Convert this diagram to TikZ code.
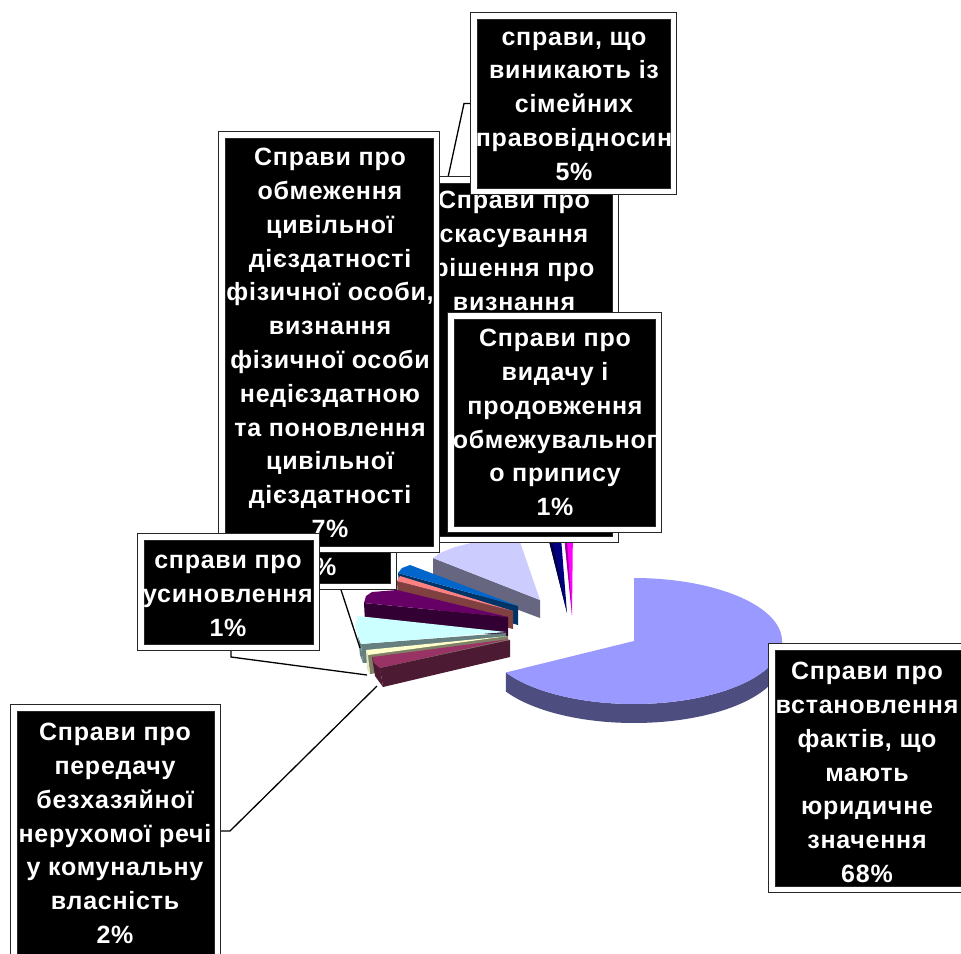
\documentclass[tikz,border=0pt]{standalone}
\usepackage{fontspec}
\newfontfamily\lblfont{Liberation Sans}[LetterSpace=3]
\pgfdeclarelayer{bg}
\pgfsetlayers{bg,main}
\definecolor{cAT}{HTML}{9999FF}\definecolor{cAS}{HTML}{4D4D80}
\definecolor{cBT}{HTML}{993366}\definecolor{cBS}{HTML}{4D1A33}
\definecolor{cCT}{HTML}{FFFFCC}\definecolor{cCS}{HTML}{808066}
\definecolor{cDT}{HTML}{CCFFFF}\definecolor{cDS}{HTML}{668080}
\definecolor{cET}{HTML}{660066}\definecolor{cES}{HTML}{330033}
\definecolor{cFT}{HTML}{FF8080}\definecolor{cFS}{HTML}{804040}
\definecolor{cGT}{HTML}{0066CC}\definecolor{cGS}{HTML}{003366}
\definecolor{cHT}{HTML}{CCCCFF}\definecolor{cHS}{HTML}{666680}
\definecolor{cIT}{HTML}{000080}\definecolor{cIS}{HTML}{000040}
\definecolor{cJT}{HTML}{FF00FF}\definecolor{cJS}{HTML}{990099}
\tikzset{
  lblbox/.style={rectangle, fill=black, draw=black!85, line width=1pt,
    double=white, double distance=5.5pt, inner sep=0pt},
  lbltext/.style={text=white, align=center, inner sep=0pt,
    font=\lblfont\bfseries\fontsize{25}{33.8}\selectfont},
  leader/.style={draw=black, line width=1.3pt},
}
\begin{document}
\begin{tikzpicture}[x=1pt,y=-1pt]
\useasboundingbox (0,0) rectangle (961,953);
\clip (0,0) rectangle (961,953);

% ---- label boxes (back to front) ----
\node[lblbox, minimum width=149.5pt, minimum height=182.5pt] (b5) at (318.5,495) {};
\node[lbltext] (t5) at (318,567) {1\%};

\node[lblbox, minimum width=202.5pt, minimum height=359.5pt] (b2) at (514,359.5) {};
\node[lbltext] (t2) at (514,251) {Справи про\\скасування\\рішення про\\визнання};

\node[lblbox, minimum width=214.5pt, minimum height=414.5pt] (b3) at (329,342) {};
\node[lbltext] (t3) at (330,343) {Справи про\\обмеження\\цивільної\\дієздатності\\фізичної особи,\\визнання\\фізичної особи\\недієздатною\\та поновлення\\цивільної\\дієздатності\\7\%};

\node[lblbox, minimum width=175.5pt, minimum height=110.5pt] (b6) at (228.5,592) {};
\node[lbltext] (t6) at (228,596) {справи про\\усиновлення\\1\%};

\node[lblbox, minimum width=199.5pt, minimum height=175.5pt] (b1) at (573.5,103.5) {};
\node[lbltext] (t1) at (574,106) {справи, що\\виникають із\\сімейних\\правовідносин\\5\%};

\node[lblbox, minimum width=207.5pt, minimum height=213.5pt] (b4) at (554.5,422.5) {};
\node[lbltext] (t4) at (555,422.5) {Справи про\\видачу і\\продовження\\обмежувальног\\о припису\\1\%};

\node[lblbox, minimum width=203.5pt, minimum height=263.5pt] (b7) at (115.5,839.5) {};
\node[lbltext] (t7) at (115,833.5) {Справи про\\передачу\\безхазяйної\\нерухомої речі\\у комунальну\\власність\\2\%};

\node[lblbox, minimum width=209.5pt, minimum height=242.5pt] (b8) at (876.5,768) {};
\node[lbltext] (t8) at (867,772.5) {Справи про\\встановлення\\фактів, що\\мають\\юридичне\\значення\\68\%};

% ---- background, pie and leaders underneath ----
\begin{pgfonlayer}{bg}
\fill[white] (0,0) rectangle (961,953);
% lavender
\fill[cHS] (433,558) -- (540,600) -- (540,618) -- (433,578) -- cycle;
\fill[cHT] (540,600) -- (433,558) -- (440,553) -- (455,547) -- (475,542) -- (497,538) -- (518,536) -- cycle;
% navy
\fill[cIT] (545,525) -- (560,525) -- (567,613) -- cycle;
\fill[cIS] (545,525) -- (549,525) -- (567,613) -- cycle;
% magenta
\fill[cJT] (563,525) -- (573,525) -- (572,615) -- cycle;
\fill[cJS] (563,525) -- (566,525) -- (572,615) -- cycle;
% blue
\fill[cGS] (398,573) -- (518,606) -- (518,625) -- (400,592) -- cycle;
\fill[cGT] (518,606) -- (410,565) -- (402,568) -- (398,573) -- cycle;
% salmon
\fill[cFS] (397,581) -- (513,611) -- (513,629) -- (398,600) -- cycle;
\fill[cFT] (513,611) -- (400,576) -- (397,581) -- cycle;
% purple
\fill[cES] (364,603) -- (508,617) -- (508,636) -- (365,622) -- cycle;
\fill[cET] (508,617) -- (397,590) -- (372,592) -- (366,596) -- (364,603) -- cycle;
% cyan
\fill[cDS] (358,636) -- (361,644) -- (363,663) -- (360,655) -- cycle;
\fill[cDS] (361,644) -- (506,633) -- (506,652) -- (363,663) -- cycle;
\fill[cDT] (506,632) -- (358,616) -- (355,625) -- (358,636) -- (361,644) -- cycle;
% light yellow
\fill[cCS] (368,655) -- (508,636) -- (508,655) -- (370,674) -- cycle;
\fill[cCT!80!gray] (366,650) -- (368,655) -- (370,674) -- (367,669) -- cycle;
\fill[cCT] (508,636) -- (366,650) -- (368,655) -- cycle;
% maroon
\fill[cBS] (372,657) -- (380,668) -- (383,687) -- (375,676) -- cycle;
\fill[cBS] (380,668) -- (510,640) -- (510,657) -- (383,687) -- cycle;
\fill[cBT] (510,639) -- (372,657) -- (374,663) -- (380,668) -- cycle;
% 68% slice
\fill[cAS] plot[domain=0:-150,samples=60] ({634+148*cos(\x)},{641-63*sin(\x)})
   -- plot[domain=-150:0,samples=60] ({634+148*cos(\x)},{660-63*sin(\x)}) -- cycle;
\fill[cAT] (634,641) -- plot[domain=90:-150,samples=100] ({634+148*cos(\x)},{641-63*sin(\x)}) -- cycle;

% leaders
\coordinate (l1a) at (464,103.5);
\coordinate (l1b) at (447,182);
\draw[leader] (b1.west) -- (l1a) -- (l1b);
\coordinate (l6a) at (231,657);
\coordinate (l6b) at (367,675);
\draw[leader] (b6.south -| l6a) -- (l6a) -- (l6b);
\coordinate (l7a) at (230,831);
\coordinate (l7b) at (377,686);
\draw[leader] (b7.east |- l7a) -- (l7a) -- (l7b);
\coordinate (l5a) at (340,586);
\coordinate (l5b) at (360,648);
\draw[leader] (b5.south -| l5a) -- (l5b);
\end{pgfonlayer}
\end{tikzpicture}
\end{document}
